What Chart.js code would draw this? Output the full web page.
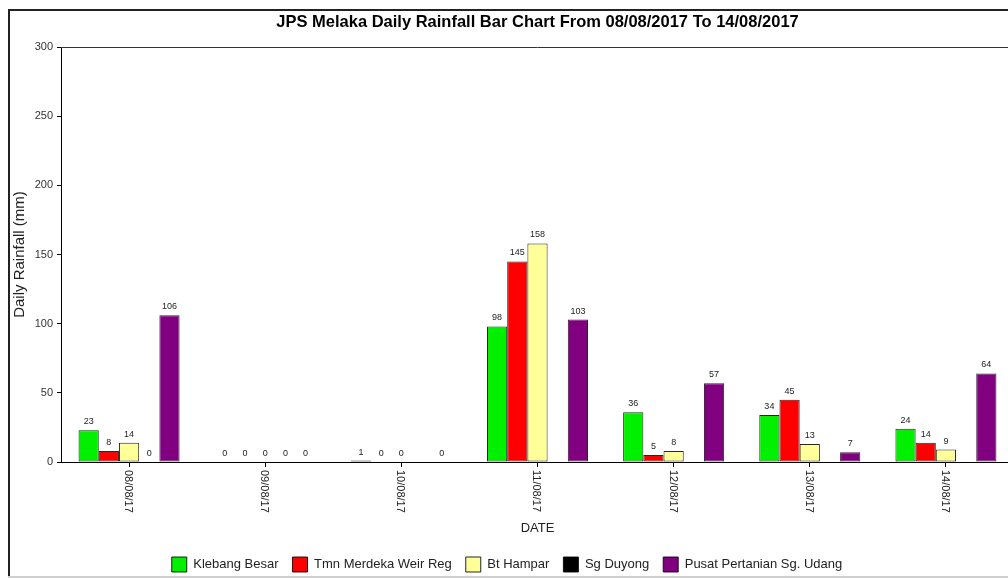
<!DOCTYPE html>
<html>
<head>
<meta charset="utf-8">
<title>JPS Melaka Daily Rainfall</title>
<script src="https://cdn.jsdelivr.net/npm/chart.js@4.4.0/dist/chart.umd.min.js"></script>
<style>
    html, body { margin: 0; padding: 0; background: #fff; overflow: hidden; }
    #wrap { position: relative; width: 1026px; height: 582px; }
</style>
</head>
<body>
<div id="wrap"><canvas id="rainChart"></canvas></div>
<script>
const dates = ['08/08/17', '09/08/17', '10/08/17', '11/08/17', '12/08/17', '13/08/17', '14/08/17'];

const klebangBesar = [23, 0, 1, 98, 36, 34, 24];
const tmnMerdeka = [8, 0, 0, 145, 5, 45, 14];
const btHampar = [14, 0, 0, 158, 8, 13, 9];
const sgDuyong = [0, 0, null, null, null, null, null];
const pusatPertanian = [106, 0, 0, 103, 57, 7, 64];

const yMax = 300;
const yStep = 50;

const FONT = "'Liberation Sans', Arial, sans-serif";

/* ---------- PLUGINS ---------- */

// value printed above each bar
const barValues = {
    id: 'barValues',
    afterDatasetsDraw(chart) {
        const ctx = chart.ctx;
        ctx.save();
        ctx.font = `9px ${FONT}`;
        ctx.fillStyle = '#222';
        ctx.textAlign = 'center';
        ctx.textBaseline = 'bottom';
        chart.data.datasets.forEach((ds, i) => {
            chart.getDatasetMeta(i).data.forEach((bar, j) => {
                const v = ds.data[j];
                if (v === null || v === undefined) return;
                ctx.fillText(String(v), bar.x, bar.y - 4);
            });
        });
        ctx.restore();
    }
};

// date labels, turned to read top to bottom
const dateLabels = {
    id: 'dateLabels',
    afterDraw(chart) {
        const ctx = chart.ctx;
        const xScale = chart.scales.x;
        ctx.save();
        ctx.font = `11px ${FONT}`;
        ctx.fillStyle = '#222';
        ctx.textAlign = 'left';
        ctx.textBaseline = 'middle';
        dates.forEach((d, i) => {
            ctx.save();
            ctx.translate(xScale.getPixelForTick(i) - 1, chart.chartArea.bottom + 8);
            ctx.rotate(Math.PI / 2);
            ctx.fillText(d, 0, 0);
            ctx.restore();
        });
        ctx.restore();
    }
};

// outer frame and top edge of plot box
const frame = {
    id: 'frame',
    afterDraw(chart) {
        const ctx = chart.ctx;
        const a = chart.chartArea;
        ctx.save();
        ctx.strokeStyle = '#222';
        ctx.lineWidth = 2;
        ctx.beginPath();
        ctx.moveTo(9, 577);
        ctx.lineTo(9, 10);
        ctx.lineTo(chart.width, 10);
        ctx.stroke();

        ctx.strokeStyle = '#cfcfcf';
        ctx.beginPath();
        ctx.moveTo(8, 577);
        ctx.lineTo(chart.width, 577);
        ctx.stroke();

        ctx.strokeStyle = '#333';
        ctx.lineWidth = 1;
        ctx.beginPath();
        ctx.moveTo(a.left, a.top + 0.5);
        ctx.lineTo(a.right, a.top + 0.5);
        ctx.stroke();
        ctx.restore();
    }
};

/* ---------- CHART ---------- */

function series(label, data, color) {
    return {
        label,
        data,
        backgroundColor: color,
        borderColor: 'rgba(0,0,0,0.85)',
        borderWidth: 1,
        borderSkipped: false
    };
}

new Chart(document.getElementById('rainChart'), {
    type: 'bar',
    data: {
        labels: dates,
        datasets: [
            series('Klebang Besar', klebangBesar, '#00f000'),
            series('Tmn Merdeka Weir Reg', tmnMerdeka, '#ff0000'),
            series('Bt Hampar', btHampar, '#ffff99'),
            series('Sg Duyong', sgDuyong, '#000000'),
            series('Pusat Pertanian Sg. Udang', pusatPertanian, '#800080')
        ]
    },
    options: {
        responsive: true,
        maintainAspectRatio: false,
        animation: false,
        layout: { padding: { top: 0, right: 12, bottom: 0, left: 0 } },
        datasets: {
            bar: { categoryPercentage: 0.742, barPercentage: 1.0 }
        },
        plugins: {
            title: {
                display: true,
                fullSize: false,
                text: 'JPS Melaka Daily Rainfall Bar Chart From 08/08/2017 To 14/08/2017',
                color: '#000',
                font: { family: FONT, size: 16.5, weight: 'bold' },
                padding: { top: 13, bottom: 14.2 }
            },
            legend: {
                position: 'bottom',
                labels: {
                    boxWidth: 15,
                    boxHeight: 15,
                    padding: 14,
                    color: '#222',
                    font: { family: FONT, size: 13 }
                }
            },
            tooltip: { enabled: false }
        },
        scales: {
            x: {
                grid: {
                    display: true,
                    drawOnChartArea: false,
                    offset: false,
                    tickLength: 5,
                    color: '#000'
                },
                border: { display: true, color: '#000', width: 1 },
                ticks: { display: false },
                title: {
                    display: true,
                    text: 'DATE',
                    color: '#222',
                    font: { family: FONT, size: 13 },
                    padding: { top: 0, bottom: 7 }
                },
                afterFit: (scale) => { scale.height = 81; }
            },
            y: {
                min: 0,
                max: yMax,
                grid: {
                    display: true,
                    drawOnChartArea: false,
                    tickLength: 4,
                    color: '#000'
                },
                border: { display: true, color: '#000', width: 1 },
                ticks: {
                    stepSize: yStep,
                    padding: 4,
                    color: '#333',
                    font: { family: FONT, size: 11 }
                },
                title: {
                    display: true,
                    text: 'Daily Rainfall (mm)',
                    color: '#222',
                    font: { family: FONT, size: 15 },
                    padding: { top: 11, bottom: 0 }
                },
                afterFit: (scale) => { scale.width = 61; }
            }
        }
    },
    plugins: [barValues, dateLabels, frame]
});
</script>
</body>
</html>
